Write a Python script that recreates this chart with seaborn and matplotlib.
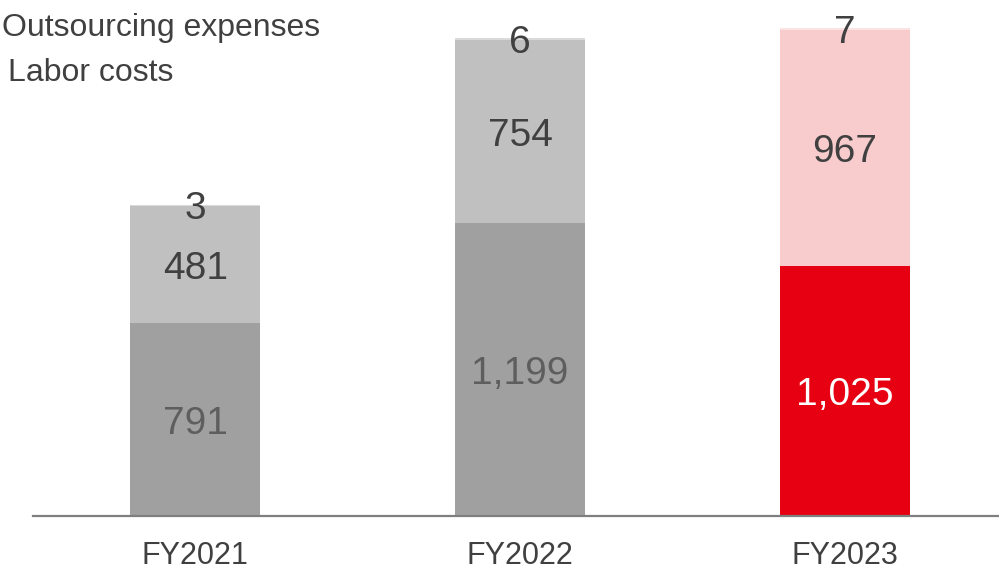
import matplotlib
matplotlib.use("Agg")
import matplotlib.pyplot as plt
import seaborn as sns
import pandas as pd

years = ["FY2021", "FY2022", "FY2023"]
labor_costs = [791, 1199, 1025]
outsourcing = [481, 754, 967]
other = [3, 6, 7]

bottom_colors = ["#a0a0a0", "#a0a0a0", "#e60012"]
middle_colors = ["#c0c0c0", "#c0c0c0", "#f8cbcd"]
top_colors = ["#dadada", "#dadada", "#fbe3e3"]
bottom_text = ["#5e5e5e", "#5e5e5e", "#ffffff"]
text_dark = "#404040"

sns.set_theme(style="white")
plt.rcParams["font.family"] = ["Liberation Sans", "DejaVu Sans"]

df = pd.DataFrame({"year": years, "labor": labor_costs,
                   "outsourcing": outsourcing, "other": other})
df["mid_total"] = df["labor"] + df["outsourcing"]
df["total"] = df["mid_total"] + df["other"]

fig = plt.figure(figsize=(9.99, 5.74), dpi=100)
ax = fig.add_axes([33 / 999, 58 / 574, 966 / 999, 516 / 574])

# stacked bars drawn as overlapping cumulative totals
for col, colors in [("total", top_colors), ("mid_total", middle_colors),
                    ("labor", bottom_colors)]:
    sns.barplot(data=df, x="year", y=col, hue="year", palette=colors,
                order=years, hue_order=years, width=0.4, legend=False,
                saturation=1, linewidth=0, ax=ax)


def seg_label(x, y, text, color):
    ax.annotate(text, (x, y), xytext=(0, -3), textcoords="offset points",
                ha="center", va="center", fontsize=28, color=color)


for i, row in df.iterrows():
    seg_label(i, row["labor"] / 2, f"{row['labor']:,}", bottom_text[i])
    seg_label(i, row["labor"] + row["outsourcing"] / 2,
              f"{row['outsourcing']:,}", text_dark)
    seg_label(i, row["mid_total"] + row["other"] / 2,
              f"{row['other']:,}", text_dark)

ax.set_xlim(-0.5, 2.475)
ax.set_ylim(0, 2115)
ax.set_xlabel("")
ax.set_ylabel("")
ax.set_yticks([])
for s in ["top", "right", "left"]:
    ax.spines[s].set_visible(False)
ax.spines["bottom"].set_color("#7f7f7f")
ax.spines["bottom"].set_linewidth(1.6)
ax.tick_params(axis="x", length=0, pad=18, labelsize=22, labelcolor=text_dark)

fig.text(2 / 999, 1 - 28 / 574, "Outsourcing expenses", fontsize=23,
         color=text_dark, va="center", ha="left")
fig.text(8 / 999, 1 - 73 / 574, "Labor costs", fontsize=23,
         color=text_dark, va="center", ha="left")

fig.savefig("out.png", dpi=100)
